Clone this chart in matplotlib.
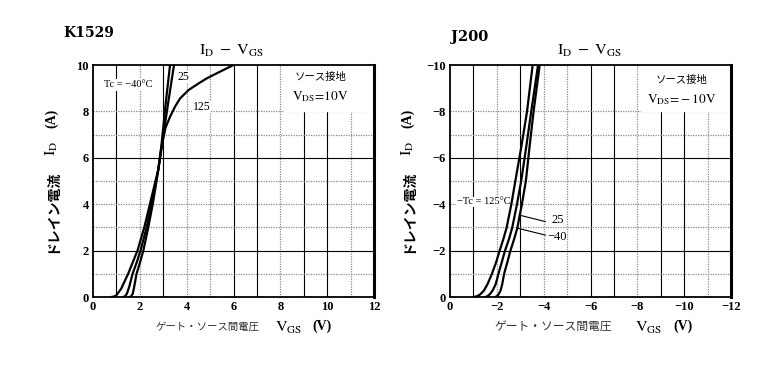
import matplotlib as mpl
mpl.use('Agg')
import matplotlib.pyplot as plt
from matplotlib.patches import Rectangle

plt.rcParams['font.family'] = ['Liberation Serif', 'DejaVu Serif', 'Noto Sans CJK JP']
plt.rcParams['mathtext.fontset'] = 'stix'

# K1529 (Nch)  ID - VGS
k_vgs_125 = [0.79, 0.9, 1.0, 1.2, 1.5, 1.7, 1.9, 2.19, 2.43, 2.62, 2.79, 2.95, 3.1, 3.29, 3.5, 3.72, 4.08, 4.5, 4.87, 5.4, 6.0]
k_id_125 = [0, 0.02, 0.08, 0.35, 1.0, 1.5, 2.0, 3.0, 4.0, 4.8, 5.5, 6.6, 7.3, 7.77, 8.2, 8.56, 8.92, 9.2, 9.43, 9.7, 10]
k_vgs_25 = [1.29, 1.38, 1.45, 1.55, 1.69, 1.87, 2.03, 2.29, 2.5, 2.66, 2.79, 2.95, 3.2, 3.46]
k_id_25 = [0, 0.04, 0.15, 0.45, 1.0, 1.5, 2.0, 3.0, 4.0, 4.8, 5.5, 6.6, 8.3, 10]
k_vgs_m40 = [1.57, 1.64, 1.7, 1.77, 1.86, 2.01, 2.15, 2.36, 2.55, 2.68, 2.79, 2.93, 3.1, 3.29]
k_id_m40 = [0, 0.04, 0.15, 0.5, 1.0, 1.5, 2.0, 3.0, 4.0, 4.8, 5.5, 6.6, 8.3, 10]

# J200 (Pch)  ID - VGS
j_id = [0, -0.03, -0.12, -0.28, -0.55, -1, -1.5, -2, -2.5, -3, -4, -5, -6.5, -8, -10]
j_vgs_125 = [-1.0, -1.15, -1.3, -1.45, -1.6, -1.79, -1.97, -2.12, -2.28, -2.42, -2.62, -2.79, -3.05, -3.29, -3.53]
j_vgs_25 = [-1.5, -1.6, -1.7, -1.82, -1.95, -2.07, -2.21, -2.35, -2.52, -2.66, -2.86, -3.04, -3.26, -3.47, -3.76]
j_vgs_m40 = [-1.93, -2.0, -2.08, -2.16, -2.23, -2.31, -2.45, -2.58, -2.74, -2.88, -3.07, -3.24, -3.4, -3.57, -3.83]

k_xticks = [0, 2, 4, 6, 8, 10, 12]
k_yticks = [0, 2, 4, 6, 8, 10]
j_xticks = [0, -2, -4, -6, -8, -10, -12]
j_yticks = [0, -2, -4, -6, -8, -10]

W, H = 773, 366
fig = plt.figure(figsize=(W / 100, H / 100), dpi=100)


def px(x, y):
    return x / W, 1 - y / H


def grid(ax, sgn):
    # vertical lines: some scanned dark, some gray dotted
    dark_x = [1, 3, 6, 7, 9, 10]
    for v in range(1, 12):
        top = 8 if v >= 9 else 10
        if v in dark_x:
            ax.plot([sgn * v, sgn * v], [0, sgn * top], color='black', lw=0.8, zorder=1)
        else:
            ax.plot([sgn * v, sgn * v], [0, sgn * top], color='#8a8a8a', lw=0.9,
                    ls=(0, (1, 1)), zorder=1)
    for h in [1, 2, 3, 4, 5, 6, 7, 8]:
        if h in (2, 6):
            ax.axhline(sgn * h, color='black', lw=0.8, zorder=1)
        else:
            ax.axhline(sgn * h, color='#8a8a8a', lw=0.9, ls=(0, (1, 1)), zorder=1)


def setup(ax, sgn, xticks, yticks):
    ax.set_xlim(0, sgn * 12)
    ax.set_ylim(0, sgn * 10)
    ax.set_xticks(xticks)
    ax.set_yticks(yticks)
    ax.tick_params(length=0, labelsize=9, pad=3)
    for lab in ax.get_xticklabels() + ax.get_yticklabels():
        lab.set_fontweight('bold')
    for s in ax.spines.values():
        s.set_linewidth(1.3)
    ax.spines['right'].set_linewidth(2.2)
    grid(ax, sgn)


# ---- left: K1529
ax1 = fig.add_axes([93 / W, 69 / H, 281 / W, 232 / H])
setup(ax1, 1, k_xticks, k_yticks)
ax1.add_patch(Rectangle((8.15, 8.0), 3.85, 2.0, color='white', zorder=2))
for xs, ys in [(k_vgs_125, k_id_125), (k_vgs_25, k_id_25), (k_vgs_m40, k_id_m40)]:
    ax1.plot(xs, ys, color='black', lw=1.6, zorder=4, solid_joinstyle='round')
ax1.text(1.5, 9.14, 'Tc = −40°C', fontsize=7.5, ha='center', va='center', zorder=3,
         bbox=dict(facecolor='white', edgecolor='none', pad=1))
ax1.text(3.6, 9.5, '25', fontsize=8.5, ha='left', va='center', zorder=3,
         bbox=dict(facecolor='white', edgecolor='none', pad=0.5))
ax1.text(4.25, 8.2, '125', fontsize=8.5, ha='left', va='center', zorder=3,
         bbox=dict(facecolor='white', edgecolor='none', pad=0.5))
ax1.text(9.7, 9.48, 'ソース接地', fontsize=7.5, ha='center', va='center', zorder=3,
         family=['Noto Sans CJK JP'])
ax1.text(9.7, 8.62, r'$\mathrm{V_{DS}\!=\!10V}$', fontsize=9.5, ha='center', va='center', zorder=3)

# ---- right: J200
ax2 = fig.add_axes([450 / W, 69 / H, 281 / W, 232 / H])
setup(ax2, -1, j_xticks, j_yticks)
ax2.add_patch(Rectangle((-8.15, -8.0), -3.85, -2.0, color='white', zorder=2))
for xs in [j_vgs_125, j_vgs_25, j_vgs_m40]:
    ax2.plot(xs, j_id, color='black', lw=1.6, zorder=4, solid_joinstyle='round')
ax2.text(-0.3, -4.1, '−Tc = 125°C', fontsize=7.5, ha='left', va='center', zorder=3,
         bbox=dict(facecolor='white', edgecolor='none', pad=0.5))
ax2.plot([-2.96, -4.07], [-3.53, -3.25], color='black', lw=0.8, zorder=5)
ax2.plot([-2.9, -4.07], [-2.96, -2.67], color='black', lw=0.8, zorder=5)
ax2.text(-4.35, -3.3, '25', fontsize=9, ha='left', va='center', zorder=3,
         bbox=dict(facecolor='white', edgecolor='none', pad=0.5))
ax2.text(-4.15, -2.6, '−40', fontsize=9, ha='left', va='center', zorder=3,
         bbox=dict(facecolor='white', edgecolor='none', pad=0.5))
ax2.text(-9.9, -9.35, 'ソース接地', fontsize=7.5, ha='center', va='center', zorder=3,
         family=['Noto Sans CJK JP'])
ax2.text(-9.9, -8.52, r'$\mathrm{V_{DS}\!=\!-10V}$', fontsize=9.5, ha='center', va='center', zorder=3)

# ---- labels / titles
fig.text(*px(89, 33), 'K1529', fontsize=10, fontweight='bold', family='DejaVu Serif',
         ha='center', va='center')
fig.text(*px(470, 37), 'J200', fontsize=10.5, fontweight='bold', family='DejaVu Serif',
         ha='center', va='center')
fig.text(*px(231, 51), r'$\mathrm{I_D\ -\ V_{GS}}$', fontsize=11.5, ha='center', va='center')
fig.text(*px(589, 51), r'$\mathrm{I_D\ -\ V_{GS}}$', fontsize=11.5, ha='center', va='center')

for jp_c, vgs_c, v_c, ylx, fs in [(207, 289, 322, 52, 7.5), (553, 649, 683, 408, 8.5)]:
    fig.text(*px(jp_c, 327), 'ゲート・ソース間電圧', fontsize=fs, ha='center', va='center',
             family=['Noto Sans CJK JP'], color='#333333')
    fig.text(*px(vgs_c, 328), r'$\mathrm{V_{GS}}$', fontsize=11.5, ha='center', va='center')
    fig.text(*px(v_c, 326), '(V)', fontsize=10, ha='center', va='center', fontweight='bold')
    fig.text(*px(ylx, 211), 'ドレイン電流', fontsize=10, ha='center', va='center', rotation=90,
             family=['Noto Sans CJK JP'], fontweight='bold')
    fig.text(*px(ylx, 148), r'$\mathrm{I_D}$', fontsize=11.5, ha='center', va='center', rotation=90)
    fig.text(*px(ylx, 118), '(A)', fontsize=10, ha='center', va='center', rotation=90,
             fontweight='bold')

fig.savefig('out.png', dpi=100)
